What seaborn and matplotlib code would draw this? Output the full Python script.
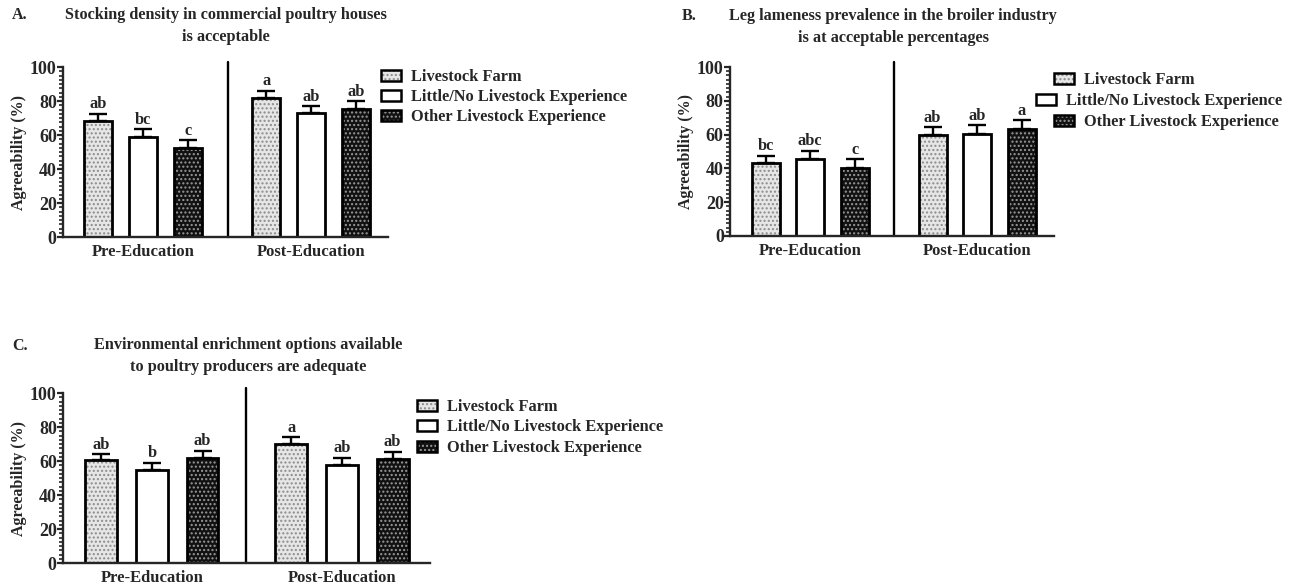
import matplotlib
matplotlib.use("Agg")
import matplotlib.pyplot as plt
import seaborn as sns
import pandas as pd
import numpy as np
from matplotlib.patches import Patch
from matplotlib.ticker import MultipleLocator

# ---------------- data ----------------
phases = ["Pre-Education", "Post-Education"]
groups = ["Livestock Farm", "Little/No Livestock Experience", "Other Livestock Experience"]

# panel A
a_vals = [[68.5, 59.0, 52.5], [82.0, 73.0, 75.5]]
a_err = [[4.0, 4.5, 4.5], [4.0, 4.0, 4.5]]
a_letters = [["ab", "bc", "c"], ["a", "ab", "ab"]]
a_title = "Stocking density in commercial poultry houses\nis acceptable"

# panel B
b_vals = [[43.0, 45.5, 40.5], [60.0, 60.5, 63.5]]
b_err = [[4.5, 5.0, 5.0], [4.5, 5.0, 5.0]]
b_letters = [["bc", "abc", "c"], ["ab", "ab", "a"]]
b_title = "Leg lameness prevalence in the broiler industry\nis at acceptable percentages"

# panel C
c_vals = [[60.5, 54.5, 61.5], [70.0, 57.5, 61.0]]
c_err = [[3.5, 4.5, 4.5], [4.0, 4.5, 4.5]]
c_letters = [["ab", "b", "ab"], ["a", "ab", "ab"]]
c_title = "Environmental enrichment options available\nto poultry producers are adequate"

yticks = [0, 20, 40, 60, 80, 100]
ylabel = "Agreeability (%)"

# ---------------- style ----------------
sns.set_theme(style="ticks")
plt.rcParams["font.family"] = ["Liberation Serif", "DejaVu Serif"]
plt.rcParams["font.weight"] = "bold"
plt.rcParams["hatch.linewidth"] = 1.0

face = {groups[0]: "#e6e6e6", groups[1]: "#ffffff", groups[2]: "#111111"}
hatch = {groups[0]: "....", groups[1]: "", groups[2]: "...."}
hatch_col = {groups[0]: (0.55, 0.55, 0.55, 1), groups[1]: (0, 0, 0, 1), groups[2]: (0.6, 0.6, 0.6, 1)}

W, H = 1292, 587
fig = plt.figure(figsize=(W / 100, H / 100), dpi=100)


def px_axes(x0, x1, ytop, ybot):
    return fig.add_axes([x0 / W, 1 - ybot / H, (x1 - x0) / W, (ybot - ytop) / H])


def draw_panel(ax, vals, errs, letters, xlim, sep):
    rows = []
    for i, ph in enumerate(phases):
        for j, g in enumerate(groups):
            rows.append({"phase": ph, "group": g, "value": vals[i][j]})
    df = pd.DataFrame(rows)
    sns.barplot(data=df, x="phase", y="value", hue="group", order=phases,
                hue_order=groups, palette=face, errorbar=None, width=0.8,
                gap=0.375, edgecolor="black", linewidth=2.0, legend=False, ax=ax)
    for j, g in enumerate(groups):
        cont = ax.containers[j]
        for i, bar in enumerate(cont):
            bar.set_hatch(hatch[g])
            bar._hatch_color = hatch_col[g]
            xc = bar.get_x() + bar.get_width() / 2
            top = bar.get_height()
            e = errs[i][j]
            ax.errorbar([xc], [top], yerr=[[0], [e]], fmt="none", ecolor="black",
                        elinewidth=1.7, capsize=6.5, capthick=1.7, zorder=4)
            ax.text(xc, top + e + 0.8, letters[i][j], ha="center", va="bottom",
                    fontsize=11.8, fontweight="bold")
    ax.set_xlim(*xlim)
    ax.set_ylim(0, 100)
    ax.axvline(sep, ymin=0, ymax=1.03, color="black", lw=1.7, clip_on=False)
    ax.set_yticks(yticks)
    ax.yaxis.set_minor_locator(MultipleLocator(2.5))
    ax.tick_params(axis="y", which="major", length=4.5, width=1.6, labelsize=13, pad=0)
    ax.tick_params(axis="y", which="minor", length=3, width=1.2)
    ax.tick_params(axis="x", length=0, labelsize=12, pad=5)
    for lab in ax.get_xticklabels() + ax.get_yticklabels():
        lab.set_fontweight("bold")
    ax.set_xlabel("")
    ax.set_ylabel(ylabel, fontsize=11.5, fontweight="bold", labelpad=2)
    sns.despine(ax=ax)
    ax.spines["left"].set_linewidth(1.7)
    ax.spines["bottom"].set_linewidth(1.7)


def row_legends(ax, xs, ys):
    # one legend per row so rows can be placed like the reference
    for g, xpx, ypx in zip(groups, xs, ys):
        h = Patch(facecolor=face[g], edgecolor="black", linewidth=1.8, hatch=hatch[g])
        h._hatch_color = hatch_col[g]
        fig.legend(handles=[h], labels=[g], loc="center left",
                   bbox_to_anchor=(xpx / W, 1 - ypx / H), frameon=False,
                   handlelength=1.2, handleheight=0.7, handletextpad=0.65,
                   borderpad=0, borderaxespad=0,
                   prop={"family": "Liberation Serif", "weight": "bold", "size": 11.8})


# Panel A
axA = px_axes(63, 388, 67, 237)
draw_panel(axA, a_vals, a_err, a_letters, (-0.476, 1.458), 0.506)
row_legends(axA, [381, 381, 381], [77, 97, 117])
fig.text(12 / W, 1 - 15 / H, "A.", ha="left", va="center", fontsize=11.5, fontweight="bold")
fig.text(226 / W, 1 - 26 / H, a_title, ha="center", va="center", fontsize=11.7,
         fontweight="bold", linespacing=1.5)

# Panel B
axB = px_axes(730, 1054, 67, 236)
draw_panel(axB, b_vals, b_err, b_letters, (-0.48, 1.46), 0.5)
row_legends(axB, [1054, 1036, 1054], [80, 101, 122])
fig.text(682 / W, 1 - 16 / H, "B.", ha="left", va="center", fontsize=11.5, fontweight="bold")
fig.text(893 / W, 1 - 27 / H, b_title, ha="center", va="center", fontsize=11.7,
         fontweight="bold", linespacing=1.5)

# Panel C
axC = px_axes(63, 430, 393, 563)
draw_panel(axC, c_vals, c_err, c_letters, (-0.468, 1.463), 0.495)
row_legends(axC, [417, 417, 417], [407, 427, 448])
fig.text(12 / W, 1 - 346 / H, "C.", ha="left", va="center", fontsize=11.5, fontweight="bold")
fig.text(248 / W, 1 - 356 / H, c_title, ha="center", va="center", fontsize=11.7,
         fontweight="bold", linespacing=1.5)

fig.savefig("out.png", dpi=100, facecolor="white")
